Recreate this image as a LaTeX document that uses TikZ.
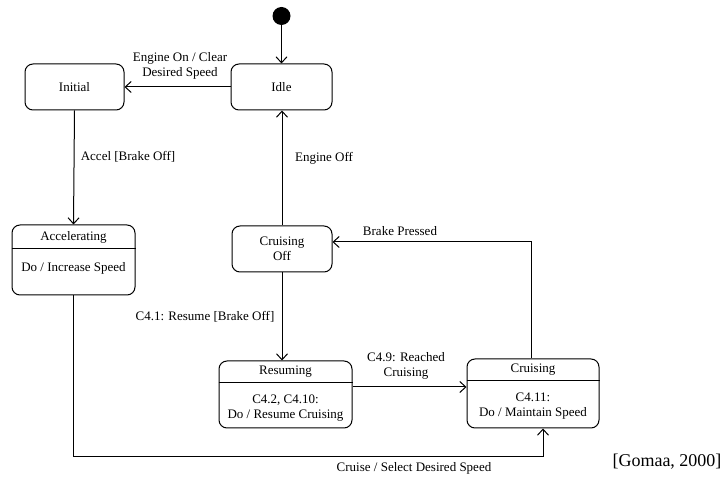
\documentclass[tikz,border=0pt]{standalone}
\usepackage{fontspec}
\setmainfont{Liberation Serif}
\usetikzlibrary{arrows.meta}
\begin{document}
\begin{tikzpicture}[x=1pt,y=-1pt,
  every node/.style={font=\fontsize{13}{15}\selectfont, inner sep=0pt},
  state/.style={draw, line width=1pt, rounded corners=8pt, fill=white},
  lbl/.style={align=center},
  conn/.style={line width=1pt, -{Straight Barb[length=6pt,width=11pt,line width=1pt]}},
  plain/.style={line width=1pt}]
\useasboundingbox (0,0) rectangle (724,478);

% initial pseudo-state
\node[circle, fill=black, minimum size=18pt] (start) at (281.5,16) {};

% simple states
\node[state, minimum width=101pt, minimum height=46pt] (idle) at (281.5,87) {Idle};
\node[state, minimum width=99pt, minimum height=46pt] (initial) at (74.5,87) {Initial};
\node[state, minimum width=100pt, minimum height=46pt, align=center] (cruisoff) at (282,249) {Cruising\\Off};

% states with an activity compartment
\node[state, minimum width=123pt, minimum height=70pt] (accel) at (73.5,260) {};
\draw[plain] (accel.west |- 0,249) -- (accel.east |- 0,249);
\node (accelname) at (73.5,237) {Accelerating};
\node (accelact) at (73.5,268) {Do / Increase Speed};

\node[state, minimum width=133pt, minimum height=67pt] (resuming) at (285.5,394.5) {};
\draw[plain] (resuming.west |- 0,383) -- (resuming.east |- 0,383);
\node (resname) at (285.5,372) {Resuming};
\node[lbl] (resact) at (285.5,408) {C4.2, C4.10:\\Do / Resume Cruising};

\node[state, minimum width=132pt, minimum height=69pt] (cruising) at (533,393.5) {};
\draw[plain] (cruising.west |- 0,381) -- (cruising.east |- 0,381);
\node (cruname) at (533,370) {Cruising};
\node[lbl] (cruact) at (533,406) {C4.11:\\Do / Maintain Speed};

% bend points
\coordinate (rc) at (0,387);
\coordinate (bp) at (531,242);
\coordinate (cs) at (543,457);

% transitions
\draw[conn] (start) -- (idle.north);
\draw[conn] (idle.west) -- (initial.east);
\draw[conn] (initial.south) -- (accel.north);
\draw[conn] (cruisoff.north) -- (cruisoff.north |- idle.south);
\draw[conn] (cruisoff.south) -- (cruisoff.south |- resuming.north);
\draw[conn] (resuming.east |- rc) -- (cruising.west |- rc);
\draw[conn] (cruising.north -| bp) -- (bp) -- (cruisoff.east |- bp);
\draw[conn] (accel.south) |- (cs) -- (cruising.south -| cs);

% transition labels
\node[lbl] (l1) at (180,66) {Engine On / Clear\\Desired Speed};
\node (l2) at (128,157) {Accel [Brake Off]};
\node (l3) at (324,158) {Engine Off};
\node (l4) at (400,231) {Brake Pressed};
\node (l5) at (205,317) {C4.1: Resume [Brake Off]};
\node[lbl] (l6) at (406,366) {C4.9: Reached\\Cruising};
\node (l7) at (414,468) {Cruise / Select Desired Speed};

% citation
\node[font=\fontsize{18}{20}\selectfont] (cite) at (667,462) {[Gomaa, 2000]};
\end{tikzpicture}
\end{document}
